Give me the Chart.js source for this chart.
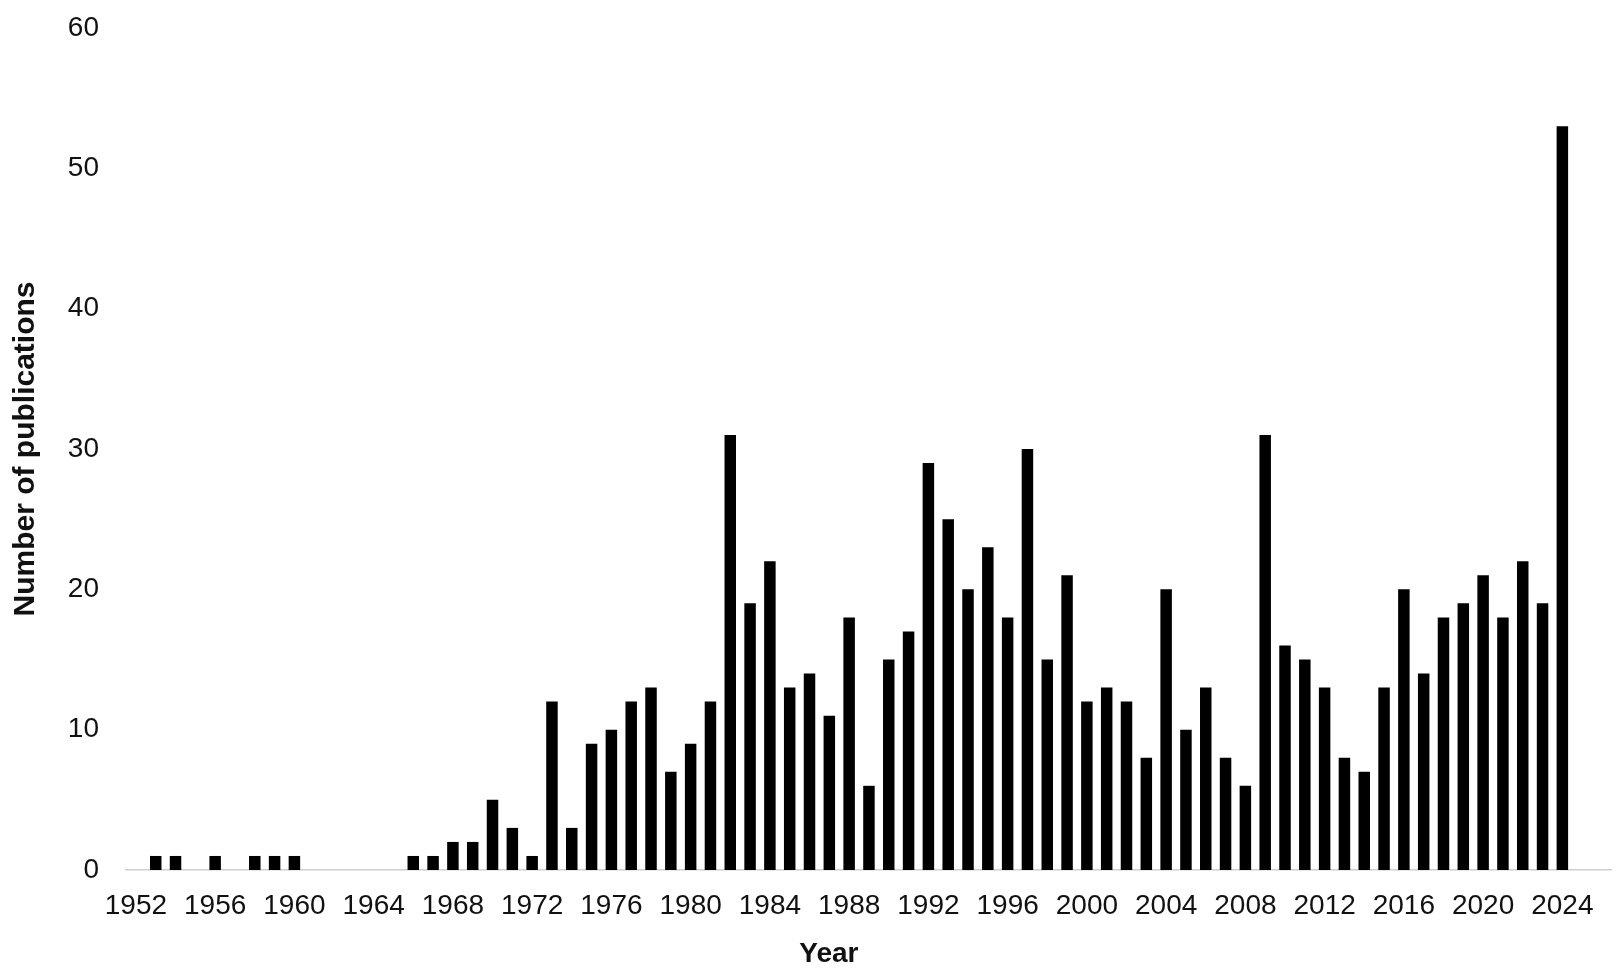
<!DOCTYPE html>
<html lang="en">
<head>
<meta charset="UTF-8">
<title>Number of publications per year</title>
<script src="https://cdn.jsdelivr.net/npm/chart.js@4.4.1/dist/chart.umd.min.js"></script>
<style>
    html, body {
        margin: 0;
        padding: 0;
        background: #ffffff;
    }
    .chart-wrap {
        position: relative;
        width: 1621px;
        height: 979px;
    }
</style>
</head>
<body>
<div class="chart-wrap">
    <canvas id="pubChart" width="1621" height="979"></canvas>
</div>
<script>
// Chart data
const years = [
    '1952', '1953', '1954', '1955', '1956', '1957', '1958', '1959', '1960', '1961',
    '1962', '1963', '1964', '1965', '1966', '1967', '1968', '1969', '1970', '1971',
    '1972', '1973', '1974', '1975', '1976', '1977', '1978', '1979', '1980', '1981',
    '1982', '1983', '1984', '1985', '1986', '1987', '1988', '1989', '1990', '1991',
    '1992', '1993', '1994', '1995', '1996', '1997', '1998', '1999', '2000', '2001',
    '2002', '2003', '2004', '2005', '2006', '2007', '2008', '2009', '2010', '2011',
    '2012', '2013', '2014', '2015', '2016', '2017', '2018', '2019', '2020', '2021',
    '2022', '2023', '2024', '2025', '2026'
];
const publications = [
    0, 1, 1, 0, 1, 0, 1, 1, 1, 0,
    0, 0, 0, 0, 1, 1, 2, 2, 5, 3,
    1, 12, 3, 9, 10, 12, 13, 7, 9, 12,
    31, 19, 22, 13, 14, 11, 18, 6, 15, 17,
    29, 25, 20, 23, 18, 30, 15, 21, 12, 13,
    12, 8, 20, 10, 13, 8, 6, 31, 16, 15,
    13, 8, 7, 13, 20, 14, 18, 19, 21, 18,
    22, 19, 53, 0, 0
];
const yTicks = [0, 10, 20, 30, 40, 50, 60];
const labelEvery = 4;

const textColor = '#111111';

// Draws the "Year" title under the x axis (sits left of centre in the original)
const xTitlePlugin = {
    id: 'xTitle',
    afterDraw(chart) {
        const ctx = chart.ctx;
        const area = chart.chartArea;
        ctx.save();
        ctx.font = 'bold 28px "Liberation Sans", Arial, sans-serif';
        ctx.fillStyle = '#111111';
        ctx.textAlign = 'center';
        ctx.textBaseline = 'middle';
        ctx.fillText('Year', area.left + area.width * 0.473, 954);
        ctx.restore();
    }
};

document.addEventListener('DOMContentLoaded', function() {
    const ctx = document.getElementById('pubChart').getContext('2d');
    new Chart(ctx, {
        type: 'bar',
        data: {
            labels: years,
            datasets: [{
                label: 'Number of publications',
                data: publications,
                backgroundColor: '#000000',
                borderWidth: 0,
                barPercentage: 1.0,
                categoryPercentage: 0.58
            }]
        },
        options: {
            responsive: false,
            animation: false,
            layout: {
                padding: { top: 28, right: 1, bottom: 0, left: 0 }
            },
            plugins: {
                legend: { display: false },
                tooltip: { enabled: false }
            },
            scales: {
                x: {
                    grid: { display: false, drawTicks: false },
                    border: { display: true, color: '#cfcfcf', width: 1.5 },
                    ticks: {
                        autoSkip: false,
                        maxRotation: 0,
                        minRotation: 0,
                        padding: 19,
                        color: textColor,
                        font: { family: '"Liberation Sans", Arial, sans-serif', size: 28 },
                        callback: function(value, index) {
                            return index % labelEvery === 0 ? years[index] : '';
                        }
                    },
                    afterFit: function(scale) {
                        scale.height = 109;
                    }
                },
                y: {
                    min: yTicks[0],
                    max: yTicks[yTicks.length - 1],
                    grid: { display: false, drawTicks: false },
                    border: { display: false },
                    afterBuildTicks: function(scale) {
                        scale.ticks = yTicks.map(v => ({ value: v }));
                    },
                    ticks: {
                        padding: 27,
                        color: textColor,
                        font: { family: '"Liberation Sans", Arial, sans-serif', size: 28 }
                    },
                    title: {
                        display: true,
                        text: 'Number of publications',
                        color: '#111111',
                        padding: { top: 8, bottom: 0 },
                        font: { family: '"Liberation Sans", Arial, sans-serif', size: 30, weight: 'bold' }
                    },
                    afterFit: function(scale) {
                        scale.width = 126;
                        // the top label may overhang; layout padding handles the margin
                        scale.paddingTop = 0;
                        scale.paddingBottom = 0;
                    }
                }
            }
        },
        plugins: [xTitlePlugin]
    });
});
</script>
</body>
</html>
